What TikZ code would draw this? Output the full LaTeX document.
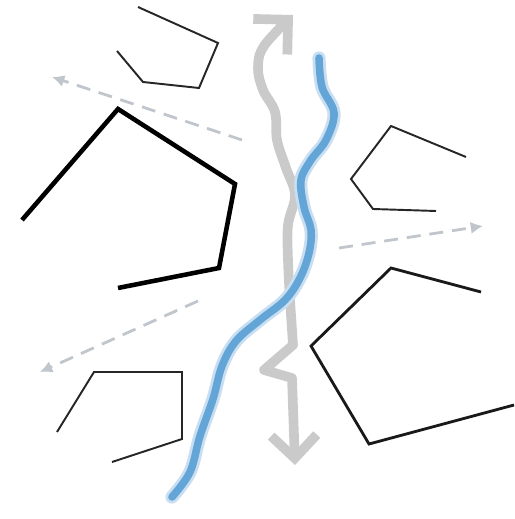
\documentclass[tikz,border=0pt]{standalone}
\usetikzlibrary{arrows.meta}
\definecolor{riverblue}{RGB}{100,165,215}
\definecolor{routegray}{RGB}{202,202,202}
\definecolor{flowgray}{RGB}{192,198,204}
\tikzset{
  thinpoly/.style={draw=black!85, line width=1.1pt, line join=miter},
  thickpoly/.style={draw=black, line width=2.6pt, line join=miter},
  midpoly/.style={draw=black!90, line width=1.6pt, line join=miter},
  flowarrow/.style={draw=flowgray, line width=1.6pt, dash pattern=on 8pt off 5pt, -{Latex[length=7pt,width=7pt]}},
  routearrow/.style={draw=routegray, line width=5.5pt, line cap=round, line join=round,
    {Straight Barb[length=13pt,width=26pt]}-{Straight Barb[length=14pt,width=28pt]}}
}
\begin{document}
\begin{tikzpicture}[x=0.02cm, y=-0.02cm]
    \useasboundingbox (0,0) rectangle (514,519);
    % grey route with arrows at both ends
    \draw[routearrow] (295,465) -- (292,378) -- (264,370) -- (293,345) -- plot[smooth, tension=0.6] coordinates {(290,300) (288,260) (288,225) (295,195) (286,168) (277,140) (275,112) (263,90) (258,68) (264,46) (293,15)};
    % blue river
    \draw[riverblue!35, line width=7.5pt, line cap=round] plot[smooth, tension=0.6] coordinates {(319,58) (322,87) (334,113) (326,140) (311,160) (301,180) (304,207) (311,230) (309,253) (300,278) (285,300) (260,320) (236,341) (222,366) (213,399) (200,436) (190,472) (172,497)};
    \draw[riverblue, line width=4.3pt, line cap=round] plot[smooth, tension=0.6] coordinates {(319,58) (322,87) (334,113) (326,140) (311,160) (301,180) (304,207) (311,230) (309,253) (300,278) (285,300) (260,320) (236,341) (222,366) (213,399) (200,436) (190,472) (172,497)};
    % polygons
    \draw[thinpoly] (138,7) -- (218,43) -- (199,88) -- (143,82) -- (117,51);
    \draw[thickpoly] (22,220) -- (118,109) -- (235,184) -- (219,268) -- (118,288);
    \draw[thinpoly] (466,157) -- (391,126) -- (351,179) -- (373,209) -- (436,211);
    \draw[midpoly] (481,292) -- (391,268) -- (311,346) -- (369,444) -- (514,405);
    \draw[thinpoly] (57,432) -- (94,372) -- (182,372) -- (182,439) -- (112,462);
    % dashed flow arrows
    \coordinate (f1s) at (242,140);
    \coordinate (f1e) at (52,77);
    \coordinate (f2s) at (339,248);
    \coordinate (f2e) at (483,226);
    \coordinate (f3s) at (198,301);
    \coordinate (f3e) at (40,372);
    \draw[flowarrow] (f1s) -- (f1e);
    \draw[flowarrow] (f2s) -- (f2e);
    \draw[flowarrow] (f3s) -- (f3e);
\end{tikzpicture}
\end{document}
